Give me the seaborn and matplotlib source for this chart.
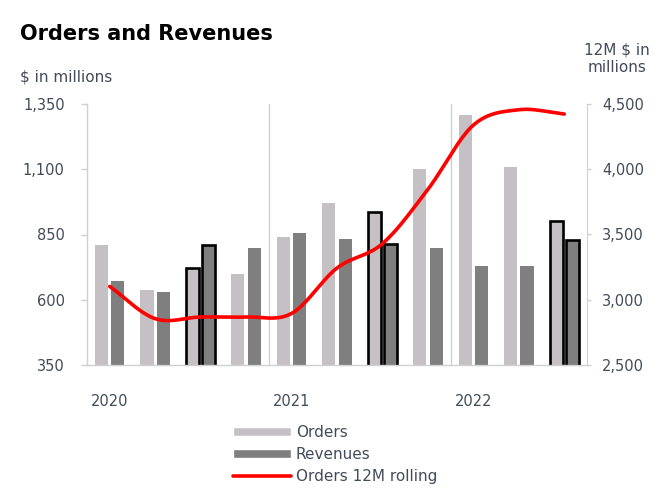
import matplotlib
matplotlib.use('Agg')
import matplotlib.pyplot as plt
from matplotlib.lines import Line2D
import numpy as np
import pandas as pd
import seaborn as sns

# Quarterly values
quarters = ['Q1 20', 'Q2 20', 'Q3 20', 'Q4 20',
            'Q1 21', 'Q2 21', 'Q3 21', 'Q4 21',
            'Q1 22', 'Q2 22', 'Q3 22']
orders = [811, 638, 720, 700, 842, 969, 936, 1100, 1308, 1110, 901]
revenues = [673, 631, 809, 800, 854, 831, 815, 800, 731, 731, 828]
orders_12m = [3102, 2855, 2868, 2868, 2895, 3243, 3430, 3846, 4338, 4456, 4423]
year_labels = ['2020', '2021', '2022']
highlight = ['Q3 20', 'Q3 21', 'Q3 22']

TEXT = '#434b5a'
GRID = '#d0d0d0'
ORDER_COL = '#c4c0c4'
REV_COL = '#7f7f7f'


def smooth(x, y, n=20):
    # Catmull-Rom curve through the points, like Excel's smoothed line
    x = np.asarray(x, float)
    y = np.asarray(y, float)
    px = np.concatenate([[2 * x[0] - x[1]], x, [2 * x[-1] - x[-2]]])
    py = np.concatenate([[2 * y[0] - y[1]], y, [2 * y[-1] - y[-2]]])
    xs, ys = [], []
    t = np.linspace(0, 1, n, endpoint=False)
    for i in range(1, len(px) - 2):
        for p, out in ((px, xs), (py, ys)):
            p0, p1, p2, p3 = p[i - 1], p[i], p[i + 1], p[i + 2]
            out.extend(0.5 * (2 * p1 + (-p0 + p2) * t
                              + (2 * p0 - 5 * p1 + 4 * p2 - p3) * t ** 2
                              + (-p0 + 3 * p1 - 3 * p2 + p3) * t ** 3))
    xs.append(x[-1])
    ys.append(y[-1])
    return np.array(xs), np.array(ys)


df = pd.DataFrame({'quarter': quarters * 2,
                   'value': orders + revenues,
                   'series': ['Orders'] * len(quarters) + ['Revenues'] * len(quarters)})

sns.set_style('white')
plt.rcParams['font.family'] = ['DejaVu Sans']

fig = plt.figure(figsize=(6.69, 4.92), dpi=100)
ax = fig.add_axes([87 / 669, 127 / 492, 500 / 669, 261 / 492])

sns.barplot(data=df, x='quarter', y='value', hue='series',
            palette=[ORDER_COL, REV_COL], width=0.72, gap=0.2,
            saturation=1, legend=True, ax=ax)
bar_handles, bar_labels = ax.get_legend_handles_labels()
ax.get_legend().remove()

for cont in ax.containers:
    for q, bar in zip(quarters, cont.patches):
        if q in highlight:
            bar.set_edgecolor('black')
            bar.set_linewidth(1.9)
        else:
            bar.set_linewidth(0)

ax.set_xlim(-0.5, len(quarters) - 0.5)
ax.set_ylim(350, 1350)
ax.set_yticks([350, 600, 850, 1100, 1350])
ax.set_yticklabels(['350', '600', '850', '1,100', '1,350'])
ax.set_xticks([0, 4, 8])
ax.set_xticklabels(year_labels)
ax.set_xticks([-0.5, 3.5, 7.5, 10.5], minor=True)
ax.tick_params(axis='x', which='major', length=0, pad=21, labelsize=10.5, labelcolor=TEXT)
ax.tick_params(axis='x', which='minor', length=4, color=GRID, width=1)
ax.tick_params(axis='y', left=True, length=4, color=GRID, width=1, pad=12,
               labelsize=10.5, labelcolor=TEXT)
for xv in [3.5, 7.5]:
    ax.axvline(xv, color=GRID, lw=1, zorder=0)
ax.set_xlabel('')
ax.set_ylabel('')
for s in ['top', 'right']:
    ax.spines[s].set_visible(False)
for s in ['left', 'bottom']:
    ax.spines[s].set_color(GRID)
    ax.spines[s].set_linewidth(1)

ax2 = ax.twinx()
sx, sy = smooth(np.arange(len(quarters)), orders_12m)
sns.lineplot(x=sx, y=sy, color='#ff0000', lw=2.6, sort=False, ax=ax2)
ax2.set_ylim(2500, 4500)
ax2.set_yticks([2500, 3000, 3500, 4000, 4500])
ax2.set_yticklabels(['2,500', '3,000', '3,500', '4,000', '4,500'])
ax2.tick_params(axis='y', right=True, length=3, color=GRID, width=1, pad=8,
                labelsize=10.5, labelcolor=TEXT)
for s in ['top', 'left', 'bottom']:
    ax2.spines[s].set_visible(False)
ax2.spines['right'].set_color(GRID)
ax.set_xlim(-0.5, len(quarters) - 0.5)

fig.text(20 / 669, 1 - 40 / 492, 'Orders and Revenues', fontsize=15,
         fontweight='bold', color='black', va='baseline')
fig.text(20 / 669, 1 - 81 / 492, '$ in millions', fontsize=11, color=TEXT, va='baseline')
fig.text(617 / 669, 1 - 59 / 492, '12M $ in\nmillions', fontsize=11, color=TEXT,
         ha='center', va='center', multialignment='center', linespacing=1.25)

line_handle = Line2D([], [], color='#ff0000', lw=2.6)
fig.legend(bar_handles + [line_handle], bar_labels + ['Orders 12M rolling'],
           loc='upper left', bbox_to_anchor=(233 / 669, 1 - 425 / 492),
           frameon=False, fontsize=11, handlelength=3.8, handleheight=0.5,
           handletextpad=0.3, labelspacing=0.45, borderpad=0, borderaxespad=0,
           labelcolor=TEXT)

fig.savefig('out.png', dpi=100)
